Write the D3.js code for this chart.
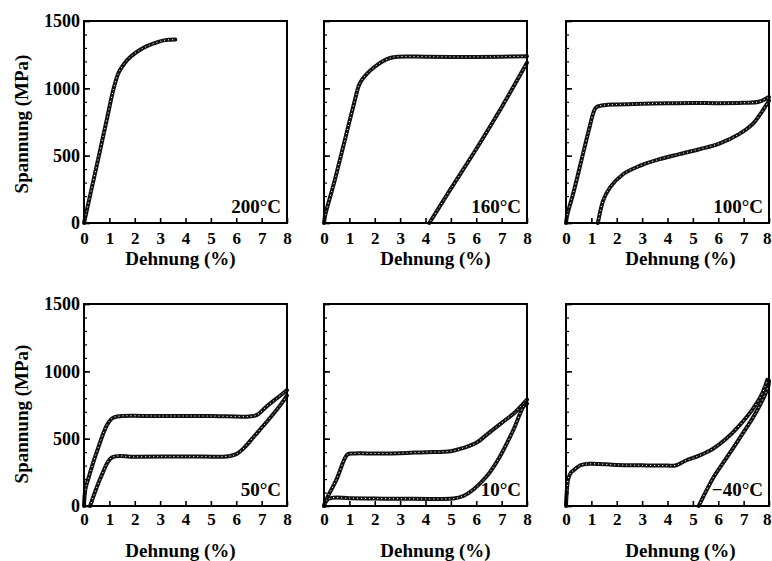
<!DOCTYPE html>
<html><head><meta charset="utf-8">
<script src="https://cdn.jsdelivr.net/npm/d3@7"></script>
<style>
body{margin:0;background:#fff}
svg{display:block}
text{font-family:"Liberation Serif","Times New Roman",serif;font-weight:bold;fill:#000}
</style>
</head><body>
<svg id="c" width="772" height="561"></svg>
<script>
// ---------- data ----------
const temps = ["200°C", "160°C", "100°C", "50°C", "10°C", "\u221240°C"];
const xTicks = [0, 1, 2, 3, 4, 5, 6, 7, 8];
const yTicks = [0, 500, 1000, 1500];
const yMinorTicks = [0, 100, 200, 300, 400, 500, 600, 700, 800, 900, 1000, 1100, 1200, 1300, 1400, 1500];
const xTitle = "Dehnung (%)";
const yTitle = "Spannung (MPa)";

// strain (%), stress (MPa)
const load200 = [[0,0],[0.3,255],[0.6,510],[0.9,770],[1.17,1000],[1.35,1110],[1.5,1160],[1.7,1210],[1.9,1245],[2.2,1285],[2.5,1315],[2.9,1343],[3.2,1358],[3.6,1362]];

const load160 = [[0,0],[0.05,60],[0.4,300],[0.8,600],[1.2,900],[1.37,1020],[1.5,1065],[1.7,1110],[2.0,1160],[2.3,1200],[2.6,1225],[2.9,1235],[4,1235],[5.5,1233],[7,1235],[8,1238]];
const unload160 = [[8,1190],[7,860],[6,550],[5,255],[4.5,105],[4.15,0]];

const load100 = [[0,0],[0.05,60],[0.3,230],[0.6,460],[0.9,690],[1.1,830],[1.2,860],[1.5,875],[2,880],[3,885],[4,890],[5,892],[6,890],[7,893],[7.6,900],[8,935]];
const unload100 = [[8,910],[7.7,820],[7.35,734],[6.82,660],[6.04,590],[5.25,548],[4.47,511],[3.69,474],[2.9,424],[2.25,362],[1.73,263],[1.46,164],[1.27,15],[1.25,0]];

const load50 = [[0,0],[0.05,120],[0.15,190],[0.5,400],[0.9,600],[1.1,650],[1.3,665],[3,668],[5,668],[6.5,665],[6.8,675],[7.2,740],[7.6,800],[8,860]];
const unload50 = [[8,820],[7.7,740],[7.27,640],[6.7,516],[6.3,430],[6.0,385],[5.7,370],[4,368],[2,365],[1.1,360],[0.7,230],[0.24,0]];

const load10 = [[0,0],[0.05,30],[0.5,200],[0.93,383],[1.2,390],[2,390],[3,392],[4,400],[5,407],[5.5,432],[6,469],[6.5,543],[7,617],[7.5,691],[8,790]];
const unload10 = [[8,760],[7.87,741],[7.47,568],[6.94,370],[6.42,222],[5.89,123],[5.49,74],[5.09,55],[4.5,52],[3,54],[2,55],[1,58],[0.3,60],[0.1,40],[0,0]];

const loadM40 = [[0,0],[0.02,80],[0.09,203],[0.2,250],[0.29,264],[0.55,301],[0.94,313],[2,305],[3,302],[4,300],[4.31,301],[4.73,338],[5.25,374],[5.78,423],[6.3,497],[6.82,595],[7.35,717],[7.74,839],[7.93,937]];
const unloadM40 = [[8,930],[7.97,888],[7.48,692],[6.82,497],[6.3,350],[5.78,203],[5.25,7],[5.23,0]];

const panelCurves = [
  [load200],
  [load160, unload160],
  [load100, unload100],
  [load50, unload50],
  [load10, unload10],
  [loadM40, unloadM40]
];

// ---------- layout ----------
const svg = d3.select("#c");
const colLeft = [84, 324, 566];
const rowTop = [21, 304];
const W = 203, H = 202;
const xTitleShift = [-5, 10, 13];
const tickPad = [9, 7];
const titleBase = [265, 557];

const x = d3.scaleLinear().domain([0, 8]).range([0, W]);
const y = d3.scaleLinear().domain([0, 1500]).range([H, 0]);
const lineAny = d3.line().x(d => x(d[0])).y(d => y(d[1])).curve(d3.curveCatmullRom.alpha(0.5));

panelCurves.forEach((curves, i) => {
  const r = Math.floor(i / 3), c = i % 3;
  const g = svg.append("g").attr("transform", `translate(${colLeft[c]},${rowTop[r]})`);

  // curves: dense chain of small open markers
  curves.forEach(d => {
    const p = lineAny(d);
    g.append("path").attr("d", p).attr("fill", "none").attr("stroke", "#111")
      .attr("stroke-width", 4).attr("stroke-linejoin", "round").attr("stroke-linecap", "round");
    g.append("path").attr("d", p).attr("fill", "none").attr("stroke", "#fff")
      .attr("stroke-width", 1).attr("stroke-dasharray", "1.1,2.9");
  });

  // x axis
  const xa = g.append("g").attr("transform", `translate(0,${H})`)
    .call(d3.axisBottom(x).tickValues(xTicks).tickSizeInner(-5).tickSizeOuter(0).tickPadding(tickPad[r]).tickFormat(d3.format("d")));
  xa.select(".domain").remove();
  xa.selectAll("line").attr("stroke", "#000").attr("stroke-width", 1.6);
  xa.selectAll("text").attr("font-size", 17).attr("fill", "#000")
    .style("font-family", '"Liberation Serif",serif').style("font-weight", "bold");
  if (c === 2) {
    xa.selectAll(".tick").filter(d => d === 8).select("text").attr("text-anchor", "end").attr("x", 2);
  }

  // y axis minor
  const ym = g.append("g").call(d3.axisLeft(y).tickValues(yMinorTicks).tickSizeInner(-3).tickSizeOuter(0).tickFormat(""));
  ym.select(".domain").remove();
  ym.selectAll("line").attr("stroke", "#000").attr("stroke-width", 1.2);
  // y axis major
  const ya = g.append("g").call(d3.axisLeft(y).tickValues(yTicks).tickSizeInner(-6).tickSizeOuter(0).tickPadding(4)
    .tickFormat(c === 0 ? d3.format("d") : ""));
  ya.select(".domain").remove();
  ya.selectAll("line").attr("stroke", "#000").attr("stroke-width", 1.6);
  ya.selectAll("text").attr("font-size", 18).attr("fill", "#000")
    .style("font-family", '"Liberation Serif",serif').style("font-weight", "bold");

  // frame
  g.append("rect").attr("width", W).attr("height", H).attr("fill", "none")
    .attr("stroke", "#000").attr("stroke-width", 2);

  // temperature label
  g.append("text").attr("x", W - 6).attr("y", H - 10).attr("text-anchor", "end")
    .attr("font-size", 19).text(temps[i]);

  // x title
  svg.append("text").attr("x", colLeft[c] + W / 2 + xTitleShift[c]).attr("y", titleBase[r])
    .attr("text-anchor", "middle").attr("font-size", 19).text(xTitle);

  // y title
  if (c === 0) {
    const cy = rowTop[r] + (r === 0 ? 103 : 110);
    svg.append("text").attr("transform", `translate(28,${cy}) rotate(-90)`)
      .attr("text-anchor", "middle").attr("font-size", 19).text(yTitle);
  }
});
</script>
</body></html>
